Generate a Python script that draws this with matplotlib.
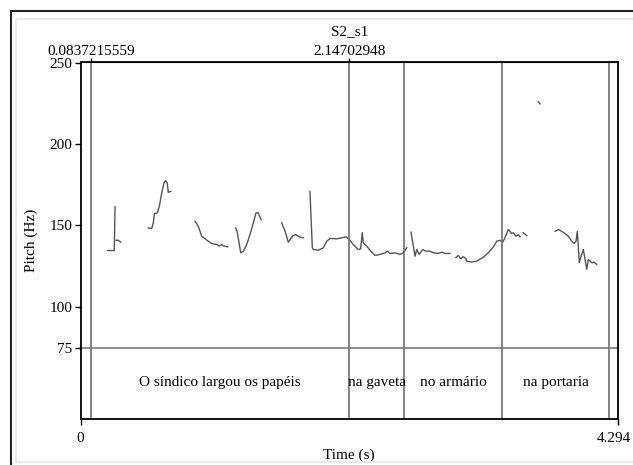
import numpy as np
import matplotlib
matplotlib.use("Agg")
import matplotlib.pyplot as plt
import matplotlib.transforms as mtransforms
from matplotlib.lines import Line2D

plt.rcParams['font.family'] = ['Liberation Serif', 'DejaVu Serif']

# pitch contour pieces (time s, pitch Hz)
seg_times = [
    [0.217, 0.262, 0.270, 0.276],
    [0.284, 0.302, 0.321],
    [0.542, 0.569, 0.582, 0.590, 0.614, 0.630, 0.649, 0.667, 0.681, 0.693, 0.701, 0.721],
    [0.915, 0.941, 0.968, 0.995, 1.021, 1.048, 1.088, 1.109, 1.128, 1.146, 1.176],
    [1.240, 1.253, 1.280, 1.301, 1.328, 1.354, 1.381, 1.402, 1.420, 1.442],
    [1.607, 1.634, 1.660, 1.679, 1.700, 1.722, 1.748, 1.780],
    [1.833, 1.852, 1.860, 1.900, 1.940, 1.967, 1.994, 2.047, 2.087, 2.121, 2.147,
     2.179, 2.219, 2.238, 2.251, 2.259, 2.287, 2.313, 2.353, 2.393, 2.433, 2.451,
     2.473, 2.513, 2.553, 2.579, 2.606],
    [2.640, 2.659, 2.672, 2.686, 2.707, 2.734, 2.760, 2.792, 2.819, 2.859, 2.886,
     2.912, 2.952],
    [2.999, 3.018, 3.037, 3.058, 3.080, 3.085, 3.125, 3.165, 3.213, 3.258, 3.285,
     3.303, 3.325, 3.351, 3.373, 3.391, 3.418, 3.431, 3.444, 3.458, 3.479, 3.497, 3.511],
    [3.537, 3.565],
    [3.657, 3.671],
    [3.791, 3.817, 3.844, 3.871, 3.897, 3.924, 3.943, 3.959, 3.969, 3.977, 3.985,
     3.999, 4.017, 4.031, 4.044, 4.057, 4.071, 4.084, 4.102, 4.124],
]
seg_pitch = [
    [134.6, 134.6, 134.6, 161.4],
    [140.9, 140.9, 139.7],
    [148.5, 148.1, 151.6, 157.3, 157.7, 161.8, 170.0, 176.1, 177.5, 176.1, 170.3, 170.9],
    [152.6, 149.5, 143.4, 141.8, 140.3, 138.9, 138.3, 137.3, 138.3, 137.3, 136.9],
    [148.5, 145.5, 133.2, 134.2, 138.3, 144.4, 151.6, 157.7, 157.7, 153.6],
    [151.6, 146.5, 139.7, 141.8, 143.8, 144.4, 143.0, 142.4],
    [170.9, 136.3, 135.2, 134.8, 136.3, 140.3, 142.0, 141.8, 142.4, 143.0, 141.4,
     138.3, 135.2, 135.6, 145.5, 139.3, 137.3, 134.8, 131.6, 132.2, 133.2, 134.2,
     132.8, 133.2, 132.2, 133.2, 136.3],
    [145.9, 137.3, 131.1, 135.2, 132.2, 135.2, 134.2, 134.2, 133.2, 132.8, 133.6,
     132.8, 132.8],
    [130.2, 131.6, 129.6, 130.8, 129.6, 128.1, 127.5, 128.1, 130.2, 133.2, 135.6,
     137.3, 140.3, 140.9, 139.7, 142.4, 147.5, 146.4, 145.0, 145.5, 143.4, 144.4, 143.0],
    [145.5, 143.8],
    [226.0, 224.6],
    [146.4, 147.5, 146.4, 145.0, 143.4, 140.3, 138.9, 140.3, 146.4, 137.3,
     127.1, 131.1, 135.2, 129.1, 123.0, 129.1, 128.1, 127.1, 127.5, 126.1],
]

# text grid tier
boundaries = [0.0837215559, 2.14702948, 2.586, 3.371, 4.226]
words = ['O síndico largou os papéis', 'na gaveta', 'no armário', 'na portaria']

t_end = 4.294
y_ticks = [75, 100, 150, 200, 250]
top_ticks = [0.0837215559, 2.14702948]
top_labels = ['0.0837215559', '2.14702948']

W, H = 633, 465
fig = plt.figure(figsize=(W / 100, H / 100), dpi=100)
ax = fig.add_axes([80.5 / W, 1 - 419 / H, (618 - 80.5) / W, (419 - 62.5) / H])

ymin, ymax = 31.2, 250
for ts, ps in zip(seg_times, seg_pitch):
    ax.plot(ts, ps, color='#555555', lw=1.0)

for b in boundaries:
    ax.axvline(b, color='#6e6e6e', lw=1.2)
ax.axhline(75, color='#7a7a7a', lw=1.2)

for i, w in enumerate(words):
    xc = (boundaries[i] + boundaries[i + 1]) / 2
    ax.text(xc, 53.4, w, ha='center', va='center', fontsize=11)

ax.set_xlim(0, t_end)
ax.set_ylim(ymin, ymax)
ax.set_yticks(y_ticks)
ax.set_yticklabels([str(v) for v in y_ticks])
ax.set_xticks([0, t_end])
ax.set_xticklabels(['0', '4.294'])
ax.tick_params(axis='both', direction='out', length=4, width=1, labelsize=11, pad=2)
ax.tick_params(axis='x', pad=5)
ax.set_xlabel('Time (s)', fontsize=11, labelpad=3)
ax.set_ylabel('Pitch (Hz)', fontsize=11, labelpad=8)
for s in ax.spines.values():
    s.set_linewidth(1.3)

# nudge the last label so it stays inside the picture
last = ax.get_xticklabels()[-1]
last.set_transform(last.get_transform() + mtransforms.ScaledTranslation(-3 / 72, 0, fig.dpi_scale_trans))

top = ax.secondary_xaxis('top')
top.set_xticks(top_ticks)
top.set_xticklabels(top_labels)
top.tick_params(direction='out', length=3, width=1, labelsize=11, pad=0)
ax.text(0.5, 1.088, 'S2_s1', transform=ax.transAxes, ha='center', va='center', fontsize=11)

# outer frame
fig.add_artist(Line2D([11 / W, 11 / W], [0, 1 - 11.5 / H], color='#222222', lw=1.5))
fig.add_artist(Line2D([11 / W, 1], [1 - 11.5 / H, 1 - 11.5 / H], color='#222222', lw=1.5))
fig.add_artist(Line2D([15.5 / W, 15.5 / W], [1 - 462 / H, 1 - 19 / H], color='#e6e6e6', lw=1.2))
fig.add_artist(Line2D([15.5 / W, 1], [1 - 19 / H, 1 - 19 / H], color='#e6e6e6', lw=1.2))
fig.add_artist(Line2D([15.5 / W, 1], [1 - 462 / H, 1 - 462 / H], color='#e6e6e6', lw=1.2))

fig.savefig('out.png', dpi=100)
